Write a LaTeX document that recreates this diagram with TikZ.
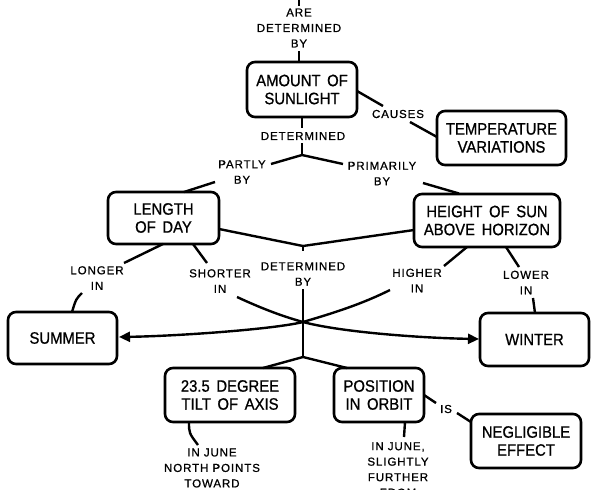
\documentclass[tikz,border=0pt]{standalone}
\usepackage{fontspec}
\setmainfont{Liberation Sans}
\newfontfamily\boxfont[FakeStretch=0.9,WordSpace=1.6,FakeBold=0.8]{Liberation Sans}
\newfontfamily\lblfont[LetterSpace=8,FakeBold=0.9]{Liberation Sans}
\usetikzlibrary{arrows.meta}
\begin{document}
\begin{tikzpicture}[x=1pt,y=-1pt,
  box/.style={draw, line width=2.6pt, rounded corners=8pt, align=center, inner sep=0pt,
    font=\boxfont\fontsize{16.5}{18}\selectfont},
  lbl/.style={align=center, inner sep=0pt, font=\lblfont\fontsize{11.5}{15.5}\selectfont},
  conn/.style={line width=2.4pt},
  arr/.style={line width=2.4pt, -{Triangle[length=11pt,width=10pt]}}]
\useasboundingbox (0,0) rectangle (600,490);
\clip (0,0) rectangle (600,490);
\fill[white] (0,0) rectangle (600,490);

% boxes
\node[box, minimum width=110pt, minimum height=55pt] (amount) at (302,89.5) {AMOUNT OF\\SUNLIGHT};
\node[box, minimum width=129pt, minimum height=54pt] (temp) at (501.5,138) {TEMPERATURE\\VARIATIONS};
\node[box, minimum width=111pt, minimum height=52pt] (length) at (163.5,218) {LENGTH\\OF DAY};
\node[box, minimum width=146pt, minimum height=53pt] (height) at (487,220.5) {HEIGHT OF SUN\\ABOVE HORIZON};
\node[box, minimum width=109pt, minimum height=52pt] (summer) at (62.5,338) {SUMMER};
\node[box, minimum width=109pt, minimum height=53pt] (winter) at (534.5,339.5) {WINTER};
\node[box, minimum width=130pt, minimum height=54pt] (tilt) at (230,395) {23.5 DEGREE\\TILT OF AXIS};
\node[box, minimum width=90pt, minimum height=54pt] (position) at (379,395) {POSITION\\IN ORBIT};
\node[box, minimum width=110pt, minimum height=54pt] (neglig) at (526,441) {NEGLIGIBLE\\EFFECT};

% labels
\node[lbl] (lare) at (299,28) {ARE\\DETERMINED\\BY};
\node[lbl] (ldet1) at (303,136) {DETERMINED};
\node[lbl] (lpartly) at (242,172) {PARTLY\\BY};
\node[lbl] (lprim) at (382,173.5) {PRIMARILY\\BY};
\node[lbl] (lcauses) at (398,114) {CAUSES};
\node[lbl] (ldet2) at (303,274) {DETERMINED\\BY};
\node[lbl] (llonger) at (97,278) {LONGER\\IN};
\node[lbl] (lshorter) at (220,281) {SHORTER\\IN};
\node[lbl] (lhigher) at (417,280.5) {HIGHER\\IN};
\node[lbl] (llower) at (526,282.5) {LOWER\\IN};
\node[lbl] (lis) at (446,409) {IS};
\node[lbl] (ljune1) at (212,468) {IN JUNE\\NORTH POINTS\\TOWARD};
\node[lbl] (ljune2) at (398,469.5) {IN JUNE,\\SLIGHTLY\\FURTHER\\FROM};

% connector coordinates
\coordinate (topend) at (299,-5);
\coordinate (top1) at (299,6);
\coordinate (are1) at (299,51);
\coordinate (amtop) at (299,62);
\coordinate (amb) at (302,117);
\coordinate (d1a) at (302,128);
\coordinate (d1b) at (302,143);
\coordinate (j1) at (302,155);
\coordinate (pl) at (271,164);
\coordinate (pr) at (343,164);
\coordinate (pby) at (215,182);
\coordinate (ltop) at (184,192);
\coordinate (prby) at (423,183);
\coordinate (htop) at (459,193.5);
\coordinate (amr) at (357,91);
\coordinate (ca1) at (383,106);
\coordinate (ca2) at (410,122);
\coordinate (tl) at (437,137);
\coordinate (lr) at (219,229);
\coordinate (hl) at (414,230);
\coordinate (j2) at (303,246);
\coordinate (d2a) at (303,251);
\coordinate (d2b) at (303,289);
\coordinate (cross) at (303,322);
\coordinate (j3) at (303,357);
\coordinate (tt) at (263,368);
\coordinate (pt) at (347,368);
\coordinate (lb1) at (163,244);
\coordinate (lo1) at (124,263);
\coordinate (lo2) at (82,293);
\coordinate (st) at (72,312);
\coordinate (lb2) at (193,244);
\coordinate (sh1) at (207,263);
\coordinate (hb1) at (467,247);
\coordinate (hi1) at (444,266);
\coordinate (hb2) at (506,247);
\coordinate (lw1) at (519,267);
\coordinate (lw2) at (533,298);
\coordinate (wt) at (535,313);
\coordinate (sh2) at (237,297);
\coordinate (hi2) at (390,290);
\coordinate (sme) at (119,337);
\coordinate (wiw) at (479,339);
\coordinate (por) at (424,395);
\coordinate (is1) at (436,403);
\coordinate (is2) at (457,413);
\coordinate (nl) at (471,422);
\coordinate (tb) at (189,422);
\coordinate (jn1) at (198,445);
\coordinate (pb) at (405,422);
\coordinate (jn2) at (404,437);

% connectors
\draw[conn] (topend) -- (top1);
\draw[conn] (are1) -- (amtop);
\draw[conn] (amb) -- (d1a);
\draw[conn] (d1b) -- (j1);
\draw[conn] (pl) -- (j1) -- (pr);
\draw[conn] (pby) -- (ltop);
\draw[conn] (prby) -- (htop);
\draw[conn] (amr) -- (ca1);
\draw[conn] (ca2) -- (tl);
\draw[conn] (lr) -- (j2) -- (hl);
\draw[conn] (j2) -- (d2a);
\draw[conn] (d2b) -- (j3);
\draw[conn] (tt) -- (j3) -- (pt);
\draw[conn] (lb1) -- (lo1);
\draw[conn] (lo2) .. controls (76,299) .. (st);
\draw[conn] (lb2) -- (sh1);
\draw[conn] (hb1) -- (hi1);
\draw[conn] (hb2) -- (lw1);
\draw[conn] (lw2) -- (wt);
\draw[arr] (sh2) .. controls (265,310) and (285,317) .. (cross) .. controls (340,332) and (420,338) .. (wiw);
\draw[arr] (hi2) .. controls (360,305) and (330,314) .. (cross) .. controls (275,329) and (180,336) .. (sme);
\draw[conn] (por) -- (is1);
\draw[conn] (is2) -- (nl);
\draw[conn] (tb) .. controls (189,433) .. (jn1);
\draw[conn] (pb) -- (jn2);
\end{tikzpicture}
\end{document}
